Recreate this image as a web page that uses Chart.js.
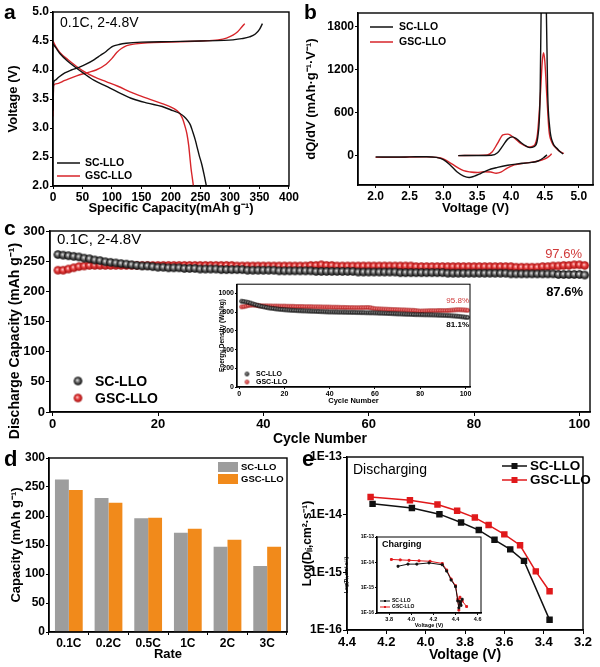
<!DOCTYPE html>
<html lang="en">
<head>
<meta charset="UTF-8">
<title>SC-LLO vs GSC-LLO</title>
<script src="https://cdn.jsdelivr.net/npm/chart.js"></script>
<style>
  body { margin: 0; background: #fff; }
  #fig { position: relative; width: 600px; height: 667px; overflow: hidden; }
  #fig canvas { position: absolute; }
</style>
</head>
<body>
<div id="fig"></div>
<script>
// ---------- data ----------
// a: charge / discharge profiles, [capacity mAh/g, voltage V]
var aScCharge = [[0,3.30],[1,3.78],[3,3.82],[10,3.88],[20,3.95],[31,4.0],[45,4.05],[56,4.1],[70,4.18],[80,4.25],[90,4.32],[97,4.38],[102,4.41],[112,4.44],[124,4.46],[150,4.48],[200,4.49],[250,4.5],[290,4.51],[305,4.52],[320,4.54],[333,4.57],[343,4.62],[350,4.7],[355,4.8]];
var aGscCharge = [[0,3.2],[1,3.73],[5,3.76],[20,3.82],[40,3.9],[60,3.96],[73,4.0],[90,4.1],[100,4.2],[108,4.3],[116,4.37],[125,4.42],[140,4.45],[160,4.47],[200,4.48],[250,4.5],[280,4.52],[294,4.55],[305,4.6],[313,4.66],[320,4.74],[325,4.8]];
var aScDis = [[0,4.45],[5,4.38],[12,4.28],[25,4.15],[40,4.03],[51,3.95],[70,3.82],[90,3.72],[110,3.62],[136,3.5],[160,3.43],[185,3.37],[203,3.3],[215,3.25],[222,3.2],[228,3.13],[233,3.05],[237,2.93],[241,2.8],[244,2.68],[248,2.52],[252,2.38],[256,2.2],[260,2.0]];
var aGscDis = [[0,4.5],[5,4.4],[12,4.3],[25,4.18],[40,4.06],[50,3.99],[70,3.88],[90,3.8],[110,3.72],[136,3.6],[160,3.51],[185,3.42],[200,3.36],[210,3.3],[215,3.25],[220,3.15],[224,3.02],[227,2.9],[230,2.7],[232,2.5],[234,2.3],[236,2.15],[238,2.0]];

// b: dQ/dV, [voltage V, dQ/dV]
var bScCharge = [[3.22,0],[3.5,2],[3.71,5],[3.8,40],[3.88,140],[3.95,230],[4.02,262],[4.08,235],[4.15,180],[4.22,135],[4.28,112],[4.34,125],[4.40,300],[4.43,900],[4.445,2100],[4.48,3000],[4.52,2100],[4.54,900],[4.57,400],[4.62,172],[4.68,100],[4.72,56],[4.77,23]];
var bGscCharge = [[3.22,0],[3.5,3],[3.65,10],[3.72,50],[3.8,170],[3.88,290],[3.95,300],[4.0,280],[4.08,220],[4.15,165],[4.22,130],[4.28,122],[4.34,140],[4.39,300],[4.43,800],[4.46,1300],[4.48,1437],[4.5,1300],[4.53,800],[4.56,350],[4.6,190],[4.66,110],[4.72,60],[4.78,30]];
var bScDis = [[2.0,-18],[2.3,-20],[2.5,-18],[2.75,-15],[2.9,-25],[3.0,-55],[3.1,-130],[3.2,-225],[3.3,-285],[3.38,-305],[3.45,-290],[3.55,-250],[3.65,-205],[3.8,-165],[3.95,-135],[4.1,-115],[4.3,-95],[4.4,-75],[4.48,-30],[4.53,10]];
var bGscDis = [[2.0,-25],[2.3,-25],[2.5,-20],[2.75,-17],[2.9,-25],[3.0,-45],[3.1,-100],[3.2,-160],[3.3,-210],[3.4,-228],[3.5,-235],[3.6,-225],[3.7,-228],[3.78,-245],[3.85,-230],[3.95,-170],[4.05,-130],[4.2,-105],[4.35,-85],[4.5,-45],[4.56,-10],[4.6,25]];

// c: discharge capacity per cycle (cycles 1..101)
var cScCap = [261,260,259,258,257,255,254,252,251,249,248,247,246,245,244,243,242,242,241,240,
  240,239,239,239,238,238,238,237,237,237,237,236,236,236,236,236,235,235,235,235,
  235,235,234,234,234,234,234,234,234,233,233,233,233,233,233,233,233,232,232,232,
  232,232,232,232,232,231,231,231,231,231,231,231,231,231,230,230,230,230,230,230,
  230,230,230,230,230,230,229,229,229,229,229,229,229,229,229,228,228,228,228,228,227];
var cGscCap = [235,235,237,239,241,242,243,243,243,243,243,243,243,243,243,243,243,243,243,243,
  243,243,243,243,243,243,243,243,243,243,243,243,243,243,242,242,242,242,242,242,
  242,242,242,242,242,242,242,242,243,243,244,243,243,242,242,242,242,242,242,242,
  242,242,242,242,242,242,242,242,241,241,241,241,241,241,241,241,241,241,241,241,
  241,241,241,241,241,241,241,240,240,240,240,240,241,241,242,242,243,243,244,244,243];
// c inset: energy density (Wh/kg)
var cScEnergy = [918,915,910,905,898,890,882,875,868,862,857,852,847,843,840,837,834,831,829,827,
  825,823,821,820,818,817,816,815,814,813,812,811,810,809,808,807,806,805,804,803,
  803,802,802,801,801,800,800,799,799,798,798,797,797,796,796,795,795,794,794,793,
  792,791,790,789,788,787,786,785,784,783,782,781,780,779,778,777,776,775,775,774,
  774,773,773,772,772,771,770,769,768,767,766,765,764,762,760,758,756,753,750,747,745];
var cGscEnergy = [858,860,866,872,876,877,875,872,870,869,868,868,867,867,866,866,866,865,865,865,
  864,864,863,863,862,862,861,861,860,860,859,859,858,858,857,857,856,856,855,855,
  854,854,853,853,852,852,851,851,850,850,849,849,849,850,850,851,851,848,843,838,
  836,835,834,833,832,831,830,829,828,827,826,825,824,823,822,821,820,818,815,812,
  813,814,815,816,816,817,817,818,818,818,818,819,820,822,824,826,827,826,825,823,821];
var cycles = cScCap.map(function (_, i) { return i + 1; });

// d: rate capability
var dRates = ['0.1C', '0.2C', '0.5C', '1C', '2C', '3C'];
var dSc = [263, 231, 196, 171, 147, 114];
var dGsc = [245, 223, 197, 178, 159, 147];

// e: Li+ diffusion coefficient, [voltage V, D]
var eScDis = [[4.27,1.54e-14],[4.07,1.31e-14],[3.93,1.02e-14],[3.82,7.3e-15],[3.73,5.4e-15],[3.65,3.67e-15],[3.57,2.5e-15],[3.50,1.58e-15],[3.37,1.5e-16]];
var eGscDis = [[4.28,2.03e-14],[4.08,1.78e-14],[3.94,1.5e-14],[3.84,1.17e-14],[3.75,8.9e-15],[3.68,6.6e-15],[3.60,4.55e-15],[3.52,2.95e-15],[3.44,1.04e-15],[3.37,4.7e-16]];
var eScChg = [[3.88,7e-15],[3.97,8.5e-15],[4.05,8.5e-15],[4.16,9.5e-15],[4.28,8e-15],[4.32,4.5e-15],[4.36,2e-15],[4.40,1.1e-15],[4.42,3e-16],[4.43,1.6e-16],[4.44,2.8e-16],[4.45,2e-16],[4.46,3.5e-16]];
var eGscChg = [[3.82,1.3e-14],[3.9,1.25e-14],[3.98,1.2e-14],[4.07,1.15e-14],[4.17,1.1e-14],[4.28,9e-15],[4.32,5e-15],[4.36,2.2e-15],[4.40,1.2e-15],[4.42,3.5e-16],[4.43,1.3e-16],[4.44,4.2e-16],[4.46,3e-16],[4.5,1.8e-16]];

// tick values
var bXTicks = [2.0, 2.5, 3.0, 3.5, 4.0, 4.5, 5.0];
var bYTicks = [0, 600, 1200, 1800];
var cXTicks = [0, 20, 40, 60, 80, 100];
var cInsetYTicks = [0, 200, 400, 600, 800, 1000];
var eYTicks = [1e-16, 1e-15, 1e-14, 1e-13];
var eInsetXTicks = [3.8, 4.0, 4.2, 4.4, 4.6];

// ---------- helpers ----------
var SANS = "'Liberation Sans', Arial, sans-serif";
var BLACK = '#111111', RED = '#d7252a';
var fig = document.getElementById('fig');

function pts(arr) { return arr.map(function (p) { return {x: p[0], y: p[1]}; }); }
function fixTicks(vals) { return function (s) { s.ticks = vals.map(function (v) { return {value: v}; }); }; }

function framePlugin(fill) {
  return {
    id: 'frame',
    beforeDraw: function (chart) {
      if (!fill) return;
      var a = chart.chartArea, ctx = chart.ctx;
      ctx.save(); ctx.fillStyle = '#fff';
      ctx.fillRect(a.left, a.top, a.right - a.left, a.bottom - a.top);
      ctx.restore();
    },
    afterDraw: function (chart) {
      var a = chart.chartArea, ctx = chart.ctx;
      ctx.save(); ctx.strokeStyle = '#000'; ctx.lineWidth = fill ? 1 : 1.4;
      ctx.strokeRect(a.left, a.top, a.right - a.left, a.bottom - a.top);
      ctx.restore();
    }
  };
}

// free text / legend marks, given in page pixels
function notesPlugin(items, ox, oy) {
  return {
    id: 'notes',
    afterDraw: function (chart) {
      var ctx = chart.ctx;
      items.forEach(function (it) {
        ctx.save();
        if (it.t === 'text') {
          ctx.font = it.font; ctx.fillStyle = it.color || '#000';
          ctx.textAlign = it.align || 'left'; ctx.textBaseline = 'middle';
          ctx.translate(it.x - ox, it.y - oy);
          if (it.rot) ctx.rotate(it.rot);
          ctx.fillText(it.s, 0, 0);
        } else if (it.t === 'line') {
          ctx.strokeStyle = it.color; ctx.lineWidth = it.w || 1.5;
          ctx.beginPath(); ctx.moveTo(it.x1 - ox, it.y - oy); ctx.lineTo(it.x2 - ox, it.y - oy); ctx.stroke();
          if (it.sq) {
            ctx.fillStyle = it.color;
            var m = (it.x1 + it.x2) / 2 - ox;
            ctx.fillRect(m - it.sq / 2, it.y - oy - it.sq / 2, it.sq, it.sq);
          }
        } else if (it.t === 'rect') {
          ctx.fillStyle = it.color;
          ctx.fillRect(it.x - ox, it.y - oy, it.w, it.h);
        } else if (it.t === 'img') {
          ctx.drawImage(it.img, it.x - ox - it.img.width / 2, it.y - oy - it.img.height / 2);
        }
        ctx.restore();
      });
    }
  };
}

// box = [left, top, width, height] of the canvas, plot = [left, top, right, bottom] of the chart area
function mk(box, plot, config, items, fill) {
  var cv = document.createElement('canvas');
  cv.width = box[2]; cv.height = box[3];
  cv.style.left = box[0] + 'px'; cv.style.top = box[1] + 'px';
  fig.appendChild(cv);
  var o = config.options;
  o.responsive = false; o.animation = false; o.maintainAspectRatio = false;
  o.layout = {padding: {left: 0, bottom: 0, top: plot[1] - box[1], right: box[0] + box[2] - plot[2]}};
  o.scales.x.afterFit = function (s) { s.height = box[1] + box[3] - plot[3]; };
  o.scales.y.afterFit = function (s) { s.width = plot[0] - box[0]; };
  o.plugins = {legend: {display: false}, tooltip: {enabled: false}};
  config.plugins = [framePlugin(fill), notesPlugin(items || [], box[0], box[1])];
  return new Chart(cv, config);
}

var plain = function (v) { return String(v); };
function axis(o) {
  var font = {family: SANS, weight: 'bold', size: o.size || 12};
  var a = {
    type: o.type || 'linear',
    grid: {drawOnChartArea: false, color: '#000', tickLength: o.tick || 3, tickWidth: 1},
    border: {color: '#000', width: 1.4},
    ticks: {color: '#000', font: font, padding: o.pad || 1, autoSkip: false, maxRotation: 0, callback: o.fmt || plain},
    title: {display: !!o.title, text: o.title || '', color: '#000',
      font: {family: SANS, weight: 'bold', size: o.tsize || 13},
      padding: o.tpad || {top: 0, bottom: 0}}
  };
  ['min', 'max', 'reverse', 'offset'].forEach(function (k) { if (o[k] !== undefined) a[k] = o[k]; });
  if (o.type === 'category') delete a.ticks.callback;
  if (o.step) a.ticks.stepSize = o.step;
  if (o.ticksAt) a.afterBuildTicks = fixTicks(o.ticksAt);
  return a;
}
function line(data, color, w) {
  return {data: pts(data), showLine: true, borderColor: color, backgroundColor: color,
    borderWidth: w || 1.4, pointRadius: 0, cubicInterpolationMode: 'monotone'};
}
function ballSprite(r, c0, c1, c2) {
  var cv = document.createElement('canvas');
  var d = Math.ceil(2 * r + 2);
  cv.width = cv.height = d;
  var g = cv.getContext('2d'), m = d / 2;
  var grd = g.createRadialGradient(m - r * 0.2, m - r * 0.2, 0, m, m, r);
  grd.addColorStop(0, c0); grd.addColorStop(0.45, c1); grd.addColorStop(1, c2);
  g.fillStyle = grd; g.beginPath(); g.arc(m, m, r, 0, Math.PI * 2); g.fill();
  return cv;
}
var fix1 = function (v) { return Number(v).toFixed(1); };

// ---------- a ----------
mk([0, 0, 300, 216], [53, 12, 289, 186], {
  type: 'scatter',
  data: {datasets: [line(aScCharge, BLACK), line(aScDis, BLACK), line(aGscCharge, RED), line(aGscDis, RED)]},
  options: {scales: {
    x: axis({min: 0, max: 400, step: 50, title: 'Specific Capacity(mAh g\u207b\u00b9)', tpad: {bottom: 0}}),
    y: axis({min: 2, max: 5, step: 0.5, fmt: fix1, title: 'Voltage (V)', tpad: {top: 6}})
  }}
}, [
  {t: 'text', x: 4, y: 13, s: 'a', font: 'bold 21px ' + SANS},
  {t: 'text', x: 60, y: 23, s: '0.1C, 2-4.8V', font: '14px ' + SANS},
  {t: 'line', x1: 57, x2: 80, y: 163, color: BLACK},
  {t: 'text', x: 85, y: 163, s: 'SC-LLO', font: 'bold 10.5px ' + SANS},
  {t: 'line', x1: 57, x2: 80, y: 176, color: RED},
  {t: 'text', x: 85, y: 176, s: 'GSC-LLO', font: 'bold 10.5px ' + SANS}
]);

// ---------- b ----------
mk([300, 0, 300, 216], [358, 13, 593, 185], {
  type: 'scatter',
  data: {datasets: [line(bScCharge, BLACK), line(bScDis, BLACK), line(bGscCharge, RED), line(bGscDis, RED)]},
  options: {scales: {
    x: axis({min: 1.74, max: 5.21, ticksAt: bXTicks, fmt: fix1, title: 'Voltage (V)'}),
    y: axis({min: -410, max: 1990, ticksAt: bYTicks, title: 'dQ/dV (mAh\u00b7g\u207b\u00b9\u00b7V\u207b\u00b9)', tpad: {top: 4}})
  }}
}, [
  {t: 'text', x: 304, y: 13, s: 'b', font: 'bold 21px ' + SANS},
  {t: 'line', x1: 370, x2: 393, y: 27, color: BLACK},
  {t: 'text', x: 399, y: 27, s: 'SC-LLO', font: 'bold 10.5px ' + SANS},
  {t: 'line', x1: 370, x2: 393, y: 42, color: RED},
  {t: 'text', x: 399, y: 42, s: 'GSC-LLO', font: 'bold 10.5px ' + SANS}
]);

// ---------- c ----------
var ballK = ballSprite(4.3, '#f4f4f4', '#6e6e6e', '#000');
var ballR = ballSprite(4.3, '#ffe0e0', '#e84040', '#a00c0c');
var ballKs = ballSprite(2.2, '#dddddd', '#555', '#000');
var ballRs = ballSprite(2.2, '#ffd4d4', '#e05050', '#a01515');
function balls(vals, img, r) {
  return {data: vals.map(function (v, i) { return {x: cycles[i], y: v}; }), showLine: false,
    pointStyle: img, pointRadius: r, borderWidth: 0};
}
mk([0, 215, 600, 234], [50, 231, 590, 412], {
  type: 'scatter',
  data: {datasets: [balls(cScCap, ballK, 4.3), balls(cGscCap, ballR, 4.3)]},
  options: {scales: {
    x: axis({min: -0.5, max: 102, ticksAt: cXTicks, size: 13, tick: 4, title: 'Cycle Number',
      tsize: 14, tpad: {bottom: 1}}),
    y: axis({min: 0, max: 300, step: 50, size: 13, tick: 4})
  }}
}, [
  {t: 'text', x: 4, y: 229, s: 'c', font: 'bold 21px ' + SANS},
  {t: 'text', x: 15, y: 341, s: 'Discharge Capacity (mAh g\u207b\u00b9)', font: 'bold 14px ' + SANS, align: 'center', rot: -Math.PI / 2},
  {t: 'text', x: 57, y: 240, s: '0.1C, 2-4.8V', font: '15px ' + SANS},
  {t: 'text', x: 582, y: 254, s: '97.6%', font: '13px ' + SANS, color: '#d03a3a', align: 'right'},
  {t: 'text', x: 583, y: 292, s: '87.6%', font: 'bold 13px ' + SANS, align: 'right'},
  {t: 'img', x: 78, y: 381, img: ballK},
  {t: 'text', x: 95, y: 382, s: 'SC-LLO', font: 'bold 14px ' + SANS},
  {t: 'img', x: 78, y: 398, img: ballR},
  {t: 'text', x: 95, y: 399, s: 'GSC-LLO', font: 'bold 14px ' + SANS}
]);

// c inset
mk([214, 279, 262, 127], [237, 281, 470, 387], {
  type: 'scatter',
  data: {datasets: [balls(cScEnergy, ballKs, 2.2), balls(cGscEnergy, ballRs, 2.2)]},
  options: {scales: {
    x: axis({min: -1, max: 102, ticksAt: cXTicks, size: 7, tick: 2, pad: 0, title: 'Cycle Number', tsize: 7.5, tpad: {bottom: 1}}),
    y: axis({min: 0, max: 1100, ticksAt: cInsetYTicks, size: 7, tick: 2, pad: 0, title: 'Energy Density (Wh/kg)', tsize: 6.5, tpad: {top: 4}})
  }}
}, [
  {t: 'text', x: 469, y: 301, s: '95.8%', font: '8px ' + SANS, color: '#d03a3a', align: 'right'},
  {t: 'text', x: 469, y: 325, s: '81.1%', font: 'bold 8px ' + SANS, align: 'right'},
  {t: 'img', x: 247, y: 374, img: ballKs},
  {t: 'text', x: 256, y: 374, s: 'SC-LLO', font: 'bold 7px ' + SANS},
  {t: 'img', x: 247, y: 382, img: ballRs},
  {t: 'text', x: 256, y: 382, s: 'GSC-LLO', font: 'bold 7px ' + SANS}
], true);

// ---------- d ----------
mk([0, 445, 300, 222], [49, 458, 287, 632], {
  type: 'bar',
  data: {labels: dRates, datasets: [
    {data: dSc, backgroundColor: '#9d9d9d', categoryPercentage: 0.7, barPercentage: 1.0},
    {data: dGsc, backgroundColor: '#f18a1b', categoryPercentage: 0.7, barPercentage: 1.0}
  ]},
  options: {scales: {
    x: axis({type: 'category', size: 12, title: 'Rate', tpad: {bottom: 5}}),
    y: axis({min: 0, max: 300, step: 50, size: 12, title: 'Capacity (mAh g\u207b\u00b9)', tpad: {top: 9}})
  }}
}, [
  {t: 'text', x: 4, y: 460, s: 'd', font: 'bold 22px ' + SANS},
  {t: 'rect', x: 218, y: 462, w: 20, h: 10, color: '#9d9d9d'},
  {t: 'text', x: 241, y: 467, s: 'SC-LLO', font: 'bold 9.5px ' + SANS},
  {t: 'rect', x: 218, y: 474, w: 20, h: 10, color: '#f18a1b'},
  {t: 'text', x: 241, y: 479, s: 'GSC-LLO', font: 'bold 9.5px ' + SANS}
]);

// ---------- e ----------
function sqLine(data, color, r, w) {
  return {data: pts(data), showLine: true, borderColor: color, backgroundColor: color,
    borderWidth: w, pointStyle: 'rect', pointRadius: r, tension: 0};
}
var logFmt = function (v) { return '1E' + Math.round(Math.log10(v)); };
mk([300, 445, 300, 222], [347, 457, 583, 630], {
  type: 'scatter',
  data: {datasets: [sqLine(eScDis, BLACK, 3.5, 1.5), sqLine(eGscDis, '#e0191b', 3.5, 1.5)]},
  options: {scales: {
    x: axis({min: 3.2, max: 4.4, step: 0.2, reverse: true, fmt: fix1, size: 13, tick: 4,
      title: 'Voltage (V)', tsize: 14, tpad: {bottom: 3}}),
    y: axis({type: 'logarithmic', min: 1e-16, max: 1e-13, ticksAt: eYTicks, fmt: logFmt, size: 12, tick: 4,
      title: 'Log(D\u2097\u1d62,cm\u00b2\u00b7s\u207b\u00b9)', tsize: 12, tpad: {top: 0}})
  }}
}, [
  {t: 'text', x: 302, y: 460, s: 'e', font: 'bold 22px ' + SANS},
  {t: 'text', x: 353, y: 470, s: 'Discharging', font: '14px ' + SANS},
  {t: 'line', x1: 502, x2: 527, y: 466, color: BLACK, sq: 6},
  {t: 'text', x: 530, y: 466, s: 'SC-LLO', font: 'bold 13.5px ' + SANS},
  {t: 'line', x1: 502, x2: 527, y: 480, color: '#e0191b', sq: 6},
  {t: 'text', x: 530, y: 480, s: 'GSC-LLO', font: 'bold 13.5px ' + SANS}
]);

// e inset
mk([340, 532, 146, 97], [377, 534, 483, 613], {
  type: 'scatter',
  data: {datasets: [sqLine(eScChg, BLACK, 1.3, 1), sqLine(eGscChg, '#e0191b', 1.3, 1)]},
  options: {scales: {
    x: axis({min: 3.69, max: 4.63, ticksAt: eInsetXTicks, fmt: fix1, size: 5.5, tick: 2, pad: 0,
      title: 'Voltage (V)', tsize: 5.5, tpad: {bottom: 0}}),
    y: axis({type: 'logarithmic', min: 1e-16, max: 1e-13, ticksAt: eYTicks, fmt: logFmt, size: 5, tick: 2, pad: 1,
      title: 'Log(D\u2097\u1d62,cm\u00b2\u00b7s\u207b\u00b9)', tsize: 5, tpad: {top: 4}})
  }}
}, [
  {t: 'text', x: 382, y: 545, s: 'Charging', font: 'bold 9px ' + SANS},
  {t: 'line', x1: 380, x2: 390, y: 601, color: BLACK, w: 1, sq: 2},
  {t: 'text', x: 392, y: 601, s: 'SC-LLO', font: 'bold 5px ' + SANS},
  {t: 'line', x1: 380, x2: 390, y: 607, color: '#e0191b', w: 1, sq: 2},
  {t: 'text', x: 392, y: 607, s: 'GSC-LLO', font: 'bold 5px ' + SANS}
], true);
</script>
</body>
</html>
